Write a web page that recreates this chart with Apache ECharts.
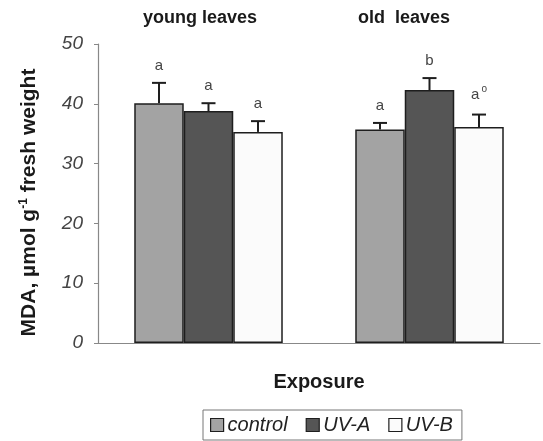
<!DOCTYPE html>
<html>
<head>
<meta charset="utf-8">
<script src="https://cdn.jsdelivr.net/npm/echarts@6/dist/echarts.min.js"></script>
<style>
  html, body { margin: 0; padding: 0; background: #fff; }
  #chart { width: 543px; height: 441px; }
</style>
</head>
<body>
<div id="chart"></div>
<script>
// Leaf groups along the x axis
const groups = ['young leaves', 'old leaves'];

// Treatment names, in legend order
const treatments = ['control', 'UV-A', 'UV-B'];

// MDA means (µmol g-1 fresh weight) per leaf group
const controlValues = [40.1, 35.7];
const uvAValues = [38.8, 42.3];
const uvBValues = [35.3, 36.1];

// Upper error (SE) per leaf group
const controlErrors = [3.4, 1.1];
const uvAErrors = [1.3, 2.0];
const uvBErrors = [1.8, 2.1];

// Significance letters over each bar
const controlLetters = ['a', 'a'];
const uvALetters = ['a', 'b'];
const uvBLetters = ['a', 'a°'];

// Y axis ticks
const yTicks = [0, 10, 20, 30, 40, 50];

const FONT = '"Liberation Sans", Arial, Helvetica, sans-serif';
const colors = ['#a3a3a3', '#555555', '#fbfbfb'];
const BAR_FRAC = 0.224;

const valueSets = [controlValues, uvAValues, uvBValues];
const errorSets = [controlErrors, uvAErrors, uvBErrors];
const letterSets = [controlLetters, uvALetters, uvBLetters];

function letterText(s) {
  if (s.endsWith('°')) return '{l|' + s.slice(0, -1) + '}{s|o}';
  return '{l|' + s + '}';
}

function errorSeries(k) {
  const data = groups.map((g, i) => [i, valueSets[k][i], valueSets[k][i] + errorSets[k][i], letterSets[k][i]]);
  return {
    type: 'custom',
    name: treatments[k] + ' error',
    z: 5,
    data: data,
    encode: { x: 0, y: [1, 2] },
    renderItem: function (params, api) {
      const band = api.size([1, 0])[0];
      const off = (k - 1) * BAR_FRAC * band;
      const base = api.coord([api.value(0), api.value(1)]);
      const top = api.coord([api.value(0), api.value(2)]);
      const x = base[0] + off;
      const cap = 7;
      const st = { stroke: '#1e1e1e', lineWidth: 2 };
      return {
        type: 'group',
        children: [
          { type: 'line', shape: { x1: x, y1: base[1], x2: x, y2: top[1] }, style: st },
          { type: 'line', shape: { x1: x - cap, y1: top[1], x2: x + cap, y2: top[1] }, style: st },
          {
            type: 'text',
            x: x, y: top[1] - 10,
            style: {
              text: letterText(data[params.dataIndex][3]),
              x: 0, y: 0,
              align: 'center', verticalAlign: 'bottom',
              rich: {
                l: { fontFamily: FONT, fontSize: 15, fill: '#444' },
                s: { fontFamily: FONT, fontSize: 10, fill: '#444', verticalAlign: 'top', padding: [0, 0, 10, 2] }
              }
            }
          }
        ]
      };
    }
  };
}

const barSeries = treatments.map((name, k) => ({
  name: name,
  type: 'bar',
  data: valueSets[k],
  barWidth: (BAR_FRAC * 100) + '%',
  barGap: '0%',
  itemStyle: { color: colors[k], borderColor: '#1e1e1e', borderWidth: 1.5 },
  emphasis: { disabled: true }
}));

const chart = echarts.init(document.getElementById('chart'), null, { renderer: 'canvas' });
chart.setOption({
  animation: false,
  backgroundColor: '#ffffff',
  title: [
    { text: 'young leaves', left: 138, top: 4,
      textStyle: { fontFamily: FONT, fontSize: 18, fontWeight: 'bold', color: '#1a1a1a' } },
    { text: 'old  leaves', left: 353, top: 4,
      textStyle: { fontFamily: FONT, fontSize: 18, fontWeight: 'bold', color: '#1a1a1a' } }
  ],
  legend: {
    data: treatments,
    left: 203, top: 410,
    itemWidth: 13, itemHeight: 13, itemGap: 18,
    icon: 'rect',
    borderColor: '#777', borderWidth: 1,
    padding: [5, 9, 5, 7],
    textStyle: { fontFamily: FONT, fontSize: 20, fontStyle: 'italic', color: '#222', padding: [0, 0, 0, -1] },
    itemStyle: { borderColor: '#1e1e1e', borderWidth: 1.2 }
  },
  grid: { left: 98, right: 3, top: 44, bottom: 98, containLabel: false },
  xAxis: {
    type: 'category',
    data: groups,
    name: 'Exposure',
    nameLocation: 'middle',
    nameGap: 29,
    nameTextStyle: { fontFamily: FONT, fontSize: 20, fontWeight: 'bold', color: '#1a1a1a' },
    axisLine: { lineStyle: { color: '#888', width: 1.2 } },
    axisTick: { show: false },
    axisLabel: { show: false }
  },
  yAxis: {
    type: 'value',
    min: yTicks[0], max: yTicks[yTicks.length - 1], interval: 10,
    name: '{b|MDA, µmol g}{sup|-1}{b| fresh weight}',
    nameLocation: 'middle',
    nameRotate: 90,
    nameGap: 58,
    nameTextStyle: {
      padding: [0, 18, 0, 0],
      rich: {
        b: { fontFamily: FONT, fontSize: 21, fontWeight: 'bold', color: '#1a1a1a' },
        sup: { fontFamily: FONT, fontSize: 12, fontWeight: 'bold', color: '#1a1a1a', verticalAlign: 'top', padding: [0, 0, 10, 0] }
      }
    },
    axisLine: { show: true, lineStyle: { color: '#888', width: 1.2 } },
    axisTick: { show: true, length: 4, lineStyle: { color: '#888' } },
    splitLine: { show: false },
    axisLabel: { fontFamily: FONT, fontSize: 19, fontStyle: 'italic', color: '#444', margin: 15 }
  },
  series: barSeries.concat([errorSeries(0), errorSeries(1), errorSeries(2)])
});
</script>
</body>
</html>
